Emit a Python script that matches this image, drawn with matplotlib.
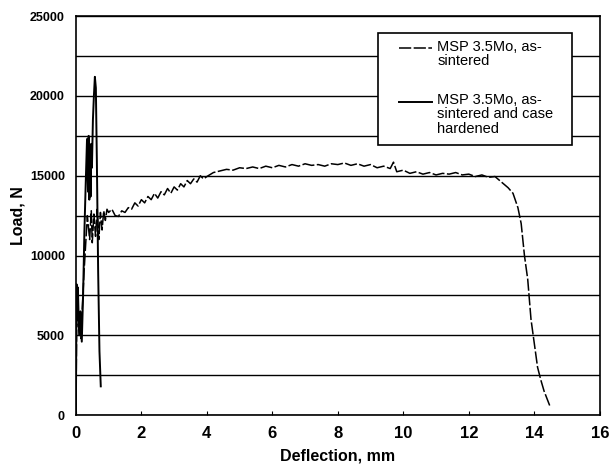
import numpy as np
import matplotlib.pyplot as plt
from matplotlib.patches import Rectangle
from matplotlib.legend_handler import HandlerLine2D

plt.rcParams['font.family'] = ['Liberation Sans', 'DejaVu Sans']

# as-sintered (dashed)
defl_sint = [0.0, 0.03, 0.08, 0.15, 0.25, 0.35, 0.42, 0.47, 0.5, 0.55, 0.6, 0.65, 0.7, 0.75,
             0.8, 0.85, 0.9, 0.95, 1.0, 1.1, 1.2, 1.3, 1.4, 1.5, 1.6, 1.7, 1.8, 1.9, 2.0,
             2.1, 2.2, 2.3, 2.4, 2.5, 2.6, 2.7, 2.8, 2.9, 3.0, 3.1, 3.2, 3.3, 3.4, 3.5,
             3.6, 3.7, 3.8, 3.9, 4.0, 4.2, 4.4, 4.6, 4.8, 5.0, 5.2, 5.4, 5.6, 5.8, 6.0,
             6.2, 6.4, 6.6, 6.8, 7.0, 7.2, 7.4, 7.6, 7.8, 8.0, 8.2, 8.4, 8.6, 8.8, 9.0,
             9.2, 9.4, 9.6, 9.7, 9.8, 10.0, 10.2, 10.4, 10.6, 10.8, 11.0, 11.2, 11.4,
             11.6, 11.8, 12.0, 12.2, 12.4, 12.6, 12.8, 13.0, 13.2, 13.35, 13.5, 13.6,
             13.7, 13.8, 13.9, 14.0, 14.1, 14.2, 14.3, 14.47]
load_sint = [0, 7000, 5500, 4800, 9000, 12500, 11000, 12800, 10800, 12600, 11200, 12900, 11000,
             12700, 11600, 12800, 12200, 12900, 12700, 12900, 12500, 12450, 12800, 12700,
             13000, 12900, 13300, 13100, 13500, 13300, 13700, 13500, 13900, 13600, 14000,
             13800, 14200, 13900, 14300, 14100, 14500, 14300, 14700, 14500, 14800, 14600,
             15000, 14800, 14950, 15200, 15300, 15400, 15350, 15500, 15450, 15550, 15450,
             15600, 15500, 15650, 15550, 15700, 15600, 15750, 15650, 15700, 15600, 15750,
             15700, 15800, 15650, 15750, 15600, 15700, 15500, 15600, 15450, 15850, 15250,
             15350, 15150, 15250, 15100, 15200, 15050, 15150, 15100, 15200, 15050, 15100,
             14950, 15050, 14900, 14950, 14600, 14250, 13900, 13000, 12000, 10000, 8500,
             6000, 4500, 3000, 2200, 1500, 600]

# as-sintered and case hardened (solid)
defl_case = [0.0, 0.02, 0.04, 0.06, 0.1, 0.14, 0.18, 0.22, 0.26, 0.3, 0.34, 0.37, 0.39, 0.41,
             0.43, 0.45, 0.47, 0.49, 0.52, 0.55, 0.58, 0.61, 0.64, 0.68, 0.72, 0.76]
load_case = [0, 8200, 6000, 8000, 5000, 6500, 4600, 7500, 11500, 14500, 17300, 14000, 17500,
             13500, 16500, 13700, 17000, 15500, 18500, 20000, 21200, 20500, 16000, 9000,
             4000, 1800]

labels = ['MSP 3.5Mo, as-\nsintered', 'MSP 3.5Mo, as-\nsintered and case\nhardened']


class FirstLineHandler(HandlerLine2D):
    # put the legend line next to the first text line, not the middle
    def create_artists(self, legend, orig_handle, xdescent, ydescent, width, height,
                       fontsize, trans):
        extra = orig_handle.get_label().count('\n')
        shift = extra * 0.76 * fontsize + 2.2
        return super().create_artists(legend, orig_handle, xdescent, ydescent - shift,
                                      width, height, fontsize, trans)


fig = plt.figure(figsize=(6.12, 4.76), dpi=100)
ax = fig.add_axes([0.124, 0.128, 0.856, 0.838])

l1, = ax.plot(defl_sint, load_sint, color='black', lw=1.1, ls=(0, (8, 1.6)), label=labels[0])
l2, = ax.plot(defl_case, load_case, color='black', lw=1.4, label=labels[1])

ax.set_xlim(0, 16)
ax.set_ylim(0, 25000)
ax.set_xticks(np.arange(0, 17, 2))
ax.set_yticks(np.arange(0, 25001, 5000))
ax.set_yticks(np.arange(0, 25001, 2500), minor=True)
ax.yaxis.grid(True, which='both', color='black', lw=1.0)
ax.set_axisbelow(True)
ax.tick_params(axis='x', direction='in', length=3, labelsize=12, pad=8)
ax.tick_params(axis='y', which='both', length=0, labelsize=9, pad=8)
for lab in ax.get_xticklabels() + ax.get_yticklabels():
    lab.set_fontweight('bold')
for s in ax.spines.values():
    s.set_linewidth(1.2)

ax.set_xlabel('Deflection, mm', fontsize=11.5, fontweight='bold', labelpad=5)
ax.set_ylabel('Load, N', fontsize=11.5, fontweight='bold', labelpad=3)

box = Rectangle((0.5763, 0.6767), 0.370, 0.2807, transform=ax.transAxes,
                facecolor='white', edgecolor='black', lw=1.2, zorder=4)
ax.add_patch(box)

leg = ax.legend(handler_map={l1: FirstLineHandler(), l2: FirstLineHandler()},
                loc='upper left', bbox_to_anchor=(0.6164, 0.940), fontsize=10.5,
                handlelength=2.3, handletextpad=0.35, labelspacing=1.7,
                frameon=False, borderpad=0, borderaxespad=0)
leg.set_zorder(5)
for t in leg.get_texts():
    t.set_linespacing(1.02)

fig.savefig('out.png', dpi=100)
